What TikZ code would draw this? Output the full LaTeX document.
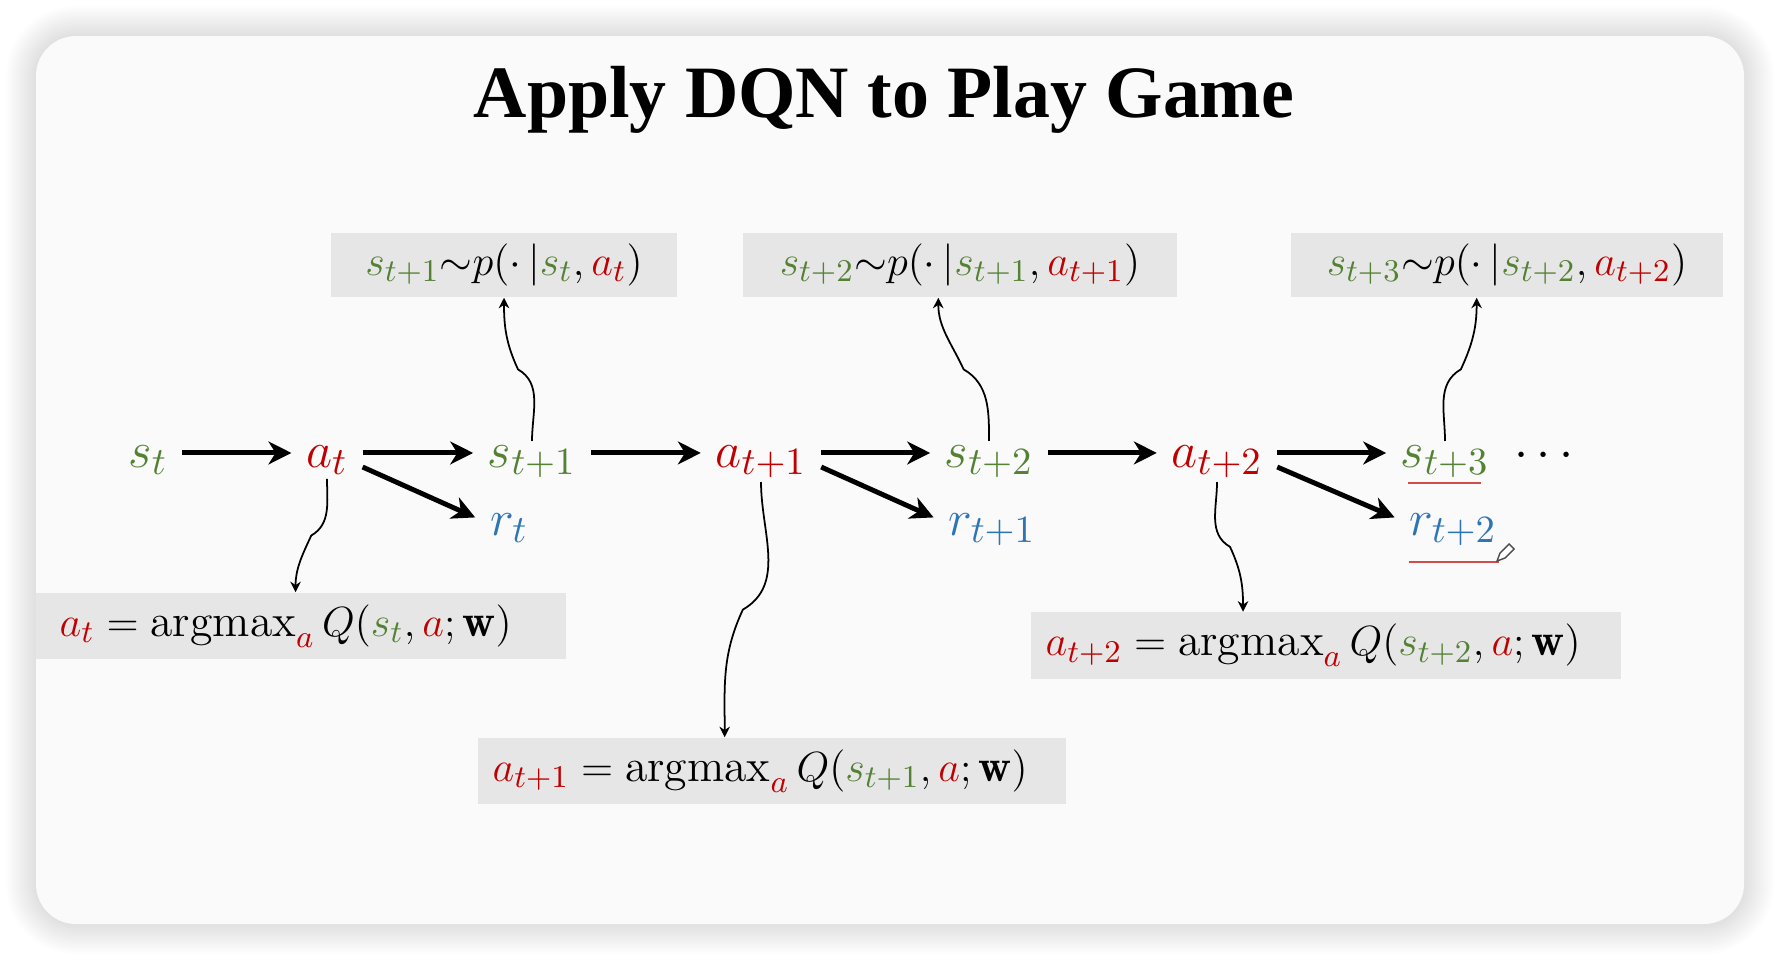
\documentclass[tikz,border=0pt]{standalone}
\usepackage{amsmath}
\usepackage{fontspec}
\newfontfamily\titlefont{Liberation Serif}
\usepackage{xcolor}
\definecolor{stgreen}{RGB}{84,130,53}
\definecolor{atred}{RGB}{192,0,0}
\definecolor{rtblue}{RGB}{46,117,182}
\definecolor{boxgray}{RGB}{231,230,230}
\definecolor{cardbg}{RGB}{250,250,250}
\usetikzlibrary{arrows.meta, positioning, calc}

\newcommand{\svar}[1]{\textcolor{stgreen}{s_{#1}}}
\newcommand{\avar}[1]{\textcolor{atred}{a_{#1}}}
\newcommand{\rvar}[1]{\textcolor{rtblue}{r_{#1}}}
\newcommand{\bigmath}{\fontsize{15}{18}\selectfont}
\newcommand{\boxfont}{\fontsize{13}{16}\selectfont}

\begin{document}
\begin{tikzpicture}[x=0.01cm, y=0.01cm,
    sym/.style={font=\bigmath, anchor=base, inner xsep=4pt, inner ysep=1pt},
    top box/.style={fill=boxgray, font=\boxfont, minimum height=0.64cm, inner sep=0pt},
    bot box/.style={fill=boxgray, font=\boxfont, minimum height=0.65cm, anchor=west,
                    align=left, inner xsep=0.15cm},
    flow/.style={-{Stealth[length=6.5pt, width=6.5pt, inset=2pt]}, line width=1.4pt},
    link/.style={-{Stealth[length=3pt, width=3pt]}, line width=0.5pt},
    penline/.style={atred!70, line width=0.6pt}]

% === Page and card ===
\fill[white] (0,0) rectangle (1780,-960);
\useasboundingbox (0,0) rectangle (1780,-960);
\foreach \i in {1,...,15} {
    \fill[black, opacity=0.008, rounded corners={0.4cm+\i*0.02cm}]
        (36-2*\i,-36+2*\i) rectangle (1744+2*\i,-924-2*\i);
}
\fill[cardbg, rounded corners=0.4cm] (36,-36) rectangle (1744,-924);

% Title
\node[font=\fontsize{21}{25}\selectfont\titlefont\bfseries, anchor=base] (title) at (884,-117)
    {Apply DQN to Play Game};

% === Trajectory ===
\node[sym] (st)  at (148,-467)  {$\svar{t}$};
\node[sym] (at)  at (327,-467)  {$\avar{t}$};
\node[sym] (st1) at (532,-467)  {$\svar{t+1}$};
\node[sym] (at1) at (761,-467)  {$\avar{t+1}$};
\node[sym] (st2) at (989,-467)  {$\svar{t+2}$};
\node[sym] (at2) at (1217,-467) {$\avar{t+2}$};
\node[sym] (st3) at (1445,-467) {$\svar{t+3}$};
\node[sym] (dots) at (1548,-467) {$\cdots$};
% rewards
\node[sym] (rt)  at (509,-535)  {$\rvar{t}$};
\node[sym] (rt1) at (992,-535)  {$\rvar{t+1}$};
\node[sym] (rt2) at (1453,-535) {$\rvar{t+2}$};

% === Transition boxes (top) ===
\node[top box, minimum width=3.46cm] (p1) at (504,-265)
    {$\svar{t+1}{\sim}p(\cdot\,|\svar{t},\avar{t})$};
\node[top box, minimum width=4.33cm] (p2) at (960,-265)
    {$\svar{t+2}{\sim}p(\cdot\,|\svar{t+1},\avar{t+1})$};
\node[top box, minimum width=4.32cm] (p3) at (1507,-265)
    {$\svar{t+3}{\sim}p(\cdot\,|\svar{t+2},\avar{t+2})$};

% === Action boxes (bottom) ===
\node[bot box, text width=4.82cm, inner xsep=0.24cm] (q0) at (35,-626)
    {$\avar{t} = \mathrm{argmax}_{\textcolor{atred}{a}}\,Q(\svar{t},\textcolor{atred}{a};\mathbf{w})$};
\node[bot box, text width=5.58cm] (q1) at (477,-771)
    {$\avar{t+1} = \mathrm{argmax}_{\textcolor{atred}{a}}\,Q(\svar{t+1},\textcolor{atred}{a};\mathbf{w})$};
\node[bot box, text width=5.60cm] (q2) at (1030,-645.5)
    {$\avar{t+2} = \mathrm{argmax}_{\textcolor{atred}{a}}\,Q(\svar{t+2},\textcolor{atred}{a};\mathbf{w})$};

% Arrows along the chain
\foreach \a/\b in {st/at, at/st1, st1/at1, at1/st2, st2/at2, at2/st3} {
    \draw[flow] ([yshift=4pt]\a.base east) -- ([yshift=4pt]\b.base west);
}
\foreach \a/\b in {at/rt, at1/rt1, at2/rt2} {
    \draw[flow] (\a.base east) -- ([yshift=5pt]\b.base west);
}

% Curly links to the boxes
\foreach \a/\b/\f/\ia/\ob in {st1/p1/0.5/-30/115, st2/p2/0.45/-30/115, st3/p3/0.43/-150/65} {
    \coordinate (tip) at ($(\b.south west)!\f!(\b.south east)$);
    \draw[link] (\a.north) to[out=90, in=\ia] ($(\a.north)!0.5!(tip)$) to[out=\ob, in=-90] (tip);
}
\foreach \a/\b/\f/\ia/\ob in {at/q0/0.49/30/245, at1/q1/0.42/30/245, at2/q2/0.36/150/295} {
    \coordinate (tip) at ($(\b.north west)!\f!(\b.north east)$);
    \draw[link] (\a.south) to[out=-90, in=\ia] ($(\a.south)!0.5!(tip)$) to[out=\ob, in=90] (tip);
}

% Pen marks
\draw[penline] ($(st3.base west)+(22,-16)$) -- ($(st3.base east)+(-23,-16)$);
\draw[penline] ($(rt2.base west)+(14,-27)$) -- ($(rt2.base east)+(-12,-27)$);
\draw[gray!60!black, line width=0.4pt, fill=white]
    (1497,-561) -- (1500,-553) -- (1509,-544) -- (1514,-549) -- (1505,-558) -- cycle;

\end{tikzpicture}
\end{document}
